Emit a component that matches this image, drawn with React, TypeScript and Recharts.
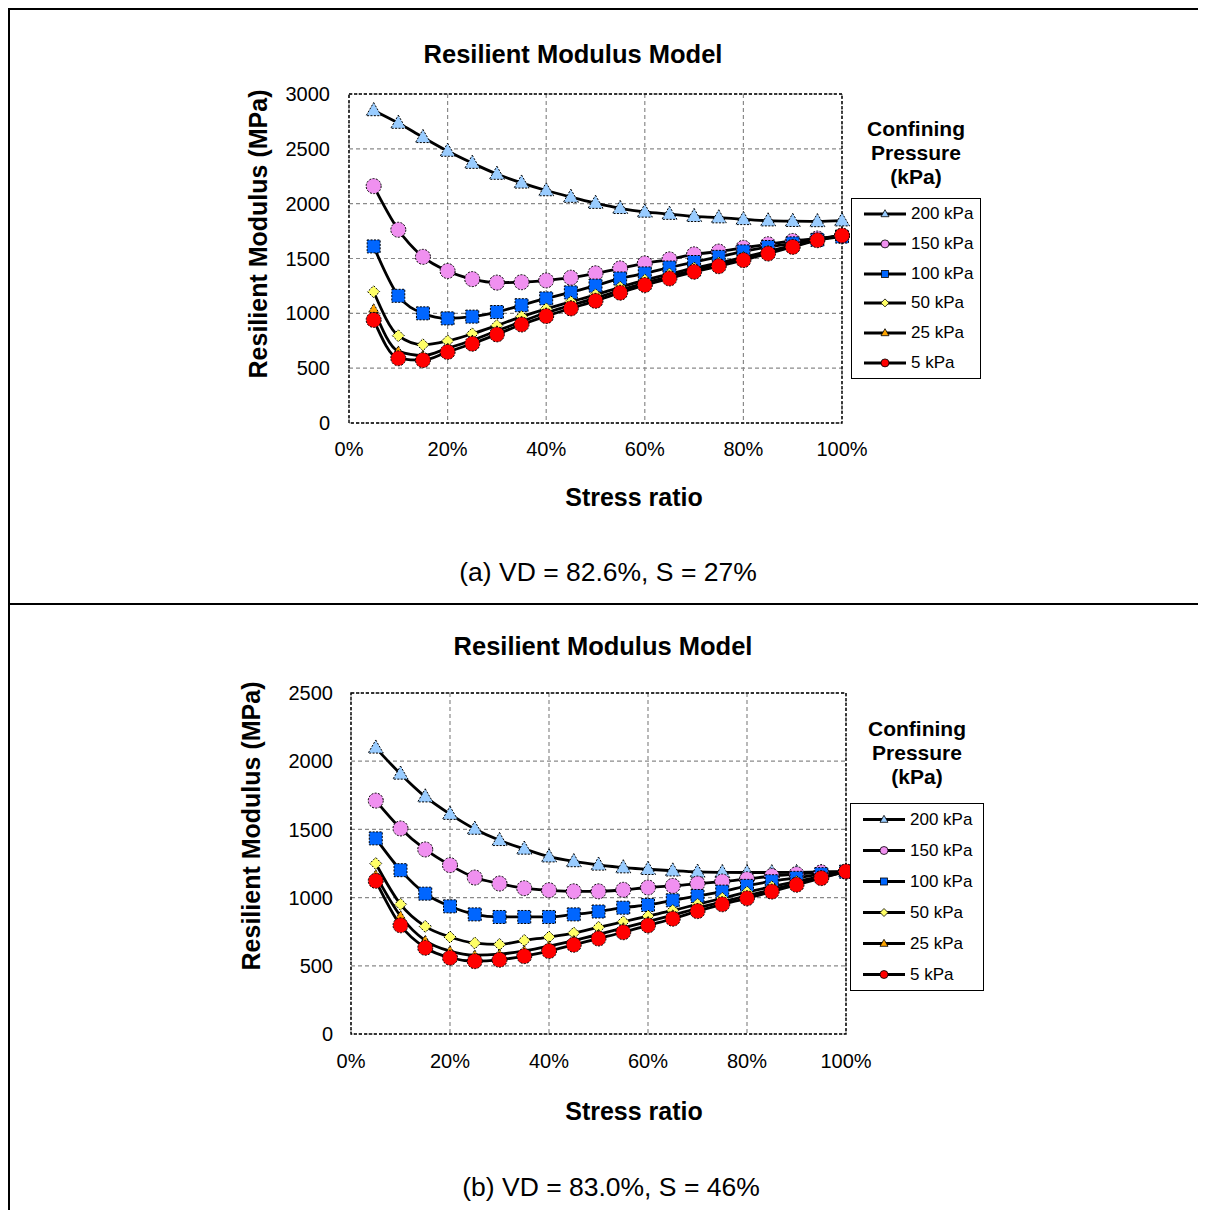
import React from 'react';
import {
  LineChart,
  Line,
  XAxis,
  YAxis,
  CartesianGrid,
  ReferenceArea,
  Legend,
  Label
} from 'recharts';

const FONT = '"Liberation Sans", Arial, Helvetica, sans-serif';

// stress ratio for every measured point (5% .. 100%)
const stressRatio = [
  0.05, 0.1, 0.15, 0.2, 0.25, 0.3, 0.35, 0.4, 0.45, 0.5,
  0.55, 0.6, 0.65, 0.7, 0.75, 0.8, 0.85, 0.9, 0.95, 1.0
];
const ratioTicks = [0, 0.2, 0.4, 0.6, 0.8, 1];

// (a) VD = 82.6%, S = 27%  -- resilient modulus in MPa
const mrA200 = [2850, 2735, 2605, 2480, 2370, 2270, 2190, 2120, 2060, 2005, 1958, 1925, 1905, 1885, 1873, 1857, 1845, 1840, 1838, 1845];
const mrA150 = [2160, 1762, 1515, 1386, 1312, 1280, 1284, 1300, 1325, 1365, 1410, 1455, 1492, 1538, 1563, 1598, 1630, 1660, 1682, 1705];
const mrA100 = [1610, 1160, 1000, 954, 970, 1012, 1074, 1136, 1191, 1253, 1318, 1364, 1418, 1468, 1515, 1565, 1605, 1638, 1670, 1700];
const mrA50 = [1197, 796, 713, 748, 813, 890, 970, 1041, 1105, 1169, 1238, 1303, 1358, 1414, 1460, 1510, 1565, 1620, 1675, 1710];
const mrA25 = [1040, 655, 615, 682, 755, 840, 925, 1005, 1072, 1138, 1210, 1278, 1336, 1395, 1444, 1497, 1553, 1612, 1670, 1708];
const mrA5 = [940, 590, 573, 648, 723, 808, 898, 975, 1045, 1114, 1188, 1258, 1318, 1379, 1430, 1485, 1545, 1606, 1667, 1710];
const modulusTicksA = [0, 500, 1000, 1500, 2000, 2500, 3000];

// (b) VD = 83.0%, S = 46%
const mrB200 = [2098, 1907, 1740, 1612, 1503, 1420, 1357, 1300, 1265, 1240, 1220, 1208, 1197, 1188, 1185, 1184, 1184, 1185, 1188, 1190];
const mrB150 = [1711, 1507, 1353, 1238, 1147, 1103, 1069, 1054, 1046, 1046, 1057, 1074, 1086, 1103, 1118, 1135, 1158, 1172, 1185, 1190];
const mrB100 = [1434, 1201, 1029, 936, 877, 858, 858, 858, 877, 898, 926, 946, 980, 1012, 1044, 1086, 1120, 1145, 1172, 1190];
const mrB50 = [1250, 951, 789, 711, 667, 657, 686, 711, 740, 782, 823, 865, 906, 951, 995, 1040, 1080, 1117, 1155, 1190];
const mrB25 = [1165, 865, 685, 608, 578, 585, 610, 645, 685, 730, 778, 825, 872, 922, 968, 1012, 1058, 1103, 1148, 1190];
const mrB5 = [1123, 797, 632, 559, 534, 544, 571, 608, 654, 700, 746, 796, 845, 901, 951, 995, 1044, 1094, 1143, 1192];
const modulusTicksB = [0, 500, 1000, 1500, 2000, 2500];

type Shape = 'triangle' | 'circle' | 'square' | 'diamond';

const series: { key: string; name: string; shape: Shape; fill: string; size: number }[] = [
  { key: 'p200', name: '200 kPa', shape: 'triangle', fill: '#99CCFF', size: 15 },
  { key: 'p150', name: '150 kPa', shape: 'circle', fill: '#F090F0', size: 15 },
  { key: 'p100', name: '100 kPa', shape: 'square', fill: '#0066FF', size: 13 },
  { key: 'p50', name: '50 kPa', shape: 'diamond', fill: '#FFFF66', size: 12 },
  { key: 'p25', name: '25 kPa', shape: 'triangle', fill: '#FFA500', size: 10 },
  { key: 'p5', name: '5 kPa', shape: 'circle', fill: '#FF0000', size: 15 }
];

const buildRows = (cols: number[][]) =>
  stressRatio.map((ratio, i) => {
    const row: Record<string, number> = { ratio };
    series.forEach((s, j) => {
      row[s.key] = cols[j][i];
    });
    return row;
  });

const rowsA = buildRows([mrA200, mrA150, mrA100, mrA50, mrA25, mrA5]);
const rowsB = buildRows([mrB200, mrB150, mrB100, mrB50, mrB25, mrB5]);

function Marker({ shape, cx, cy, size, fill, dashed = true }: {
  shape: Shape; cx: number; cy: number; size: number; fill: string; dashed?: boolean;
}) {
  const h = size / 2;
  const common = {
    fill,
    stroke: '#000',
    strokeWidth: dashed ? 1 : 0.8,
    strokeDasharray: dashed ? '2 1.4' : undefined
  };
  if (shape === 'circle') return <circle cx={cx} cy={cy} r={h} {...common} />;
  if (shape === 'square') return <rect x={cx - h} y={cy - h} width={size} height={size} {...common} />;
  if (shape === 'diamond') {
    return <polygon points={`${cx},${cy - h} ${cx + h},${cy} ${cx},${cy + h} ${cx - h},${cy}`} {...common} />;
  }
  return (
    <polygon
      points={`${cx},${cy - h * 1.05} ${cx + h},${cy + h * 0.7} ${cx - h},${cy + h * 0.7}`}
      {...common}
    />
  );
}

type Geo = {
  top: number;
  height: number;
  margin: { top: number; right: number; bottom: number; left: number };
  yTickMargin: number;
  xTickMargin: number;
  xTitle: [number, number];
  yTitle: [number, number];
  legendLeft: number;
  legendTop: number;
  legendWidth: number;
  legendGap: number;
  rowHeight: number;
  title: [number, number];
  caption: [number, number];
};

// panels sit inside the 2px table border, hence the -2 offsets
const geoA: Geo = {
  top: -2,
  height: 590,
  margin: { top: 86, right: 356, bottom: 145, left: 281 },
  yTickMargin: 13,
  xTickMargin: 13,
  xTitle: [626, 489],
  yTitle: [250, 226],
  legendLeft: 843,
  legendTop: 109,
  legendWidth: 130,
  legendGap: 9,
  rowHeight: 29.8,
  title: [565, 46],
  caption: [600, 564]
};

const geoB: Geo = {
  top: 594,
  height: 598,
  margin: { top: 89, right: 352, bottom: 138, left: 283 },
  yTickMargin: 12,
  xTickMargin: 14,
  xTitle: [626, 507],
  yTitle: [243, 222],
  legendLeft: 842,
  legendTop: 113,
  legendWidth: 134,
  legendGap: 14,
  rowHeight: 31,
  title: [595, 42],
  caption: [603, 583]
};

const tickStyle = { fill: '#000', fontSize: 20, fontFamily: FONT };

function Panel({ rows, yMax, yTicks, caption, geo }: {
  rows: Record<string, number>[]; yMax: number; yTicks: number[]; caption: string; geo: Geo;
}) {
  const renderLegend = () => (
    <div style={{ width: geo.legendWidth, fontFamily: FONT, color: '#000' }}>
      <div style={{ textAlign: 'center', fontWeight: 'bold', fontSize: 21, lineHeight: '24px' }}>
        Confining<br />Pressure<br />(kPa)
      </div>
      <div style={{ marginTop: geo.legendGap, border: '1.5px solid #000', background: '#fff' }}>
        {series.map((s) => (
          <div key={s.key} style={{ position: 'relative', height: geo.rowHeight }}>
            <svg width={58} height={geo.rowHeight} style={{ position: 'absolute', left: 0, top: 0 }}>
              <line x1={12} x2={54} y1={geo.rowHeight / 2} y2={geo.rowHeight / 2} stroke="#000" strokeWidth={3} />
              <Marker shape={s.shape} cx={33} cy={geo.rowHeight / 2} size={s.shape === 'square' ? 7 : 8} fill={s.fill} dashed={false} />
            </svg>
            <span style={{ position: 'absolute', left: 59, top: 0, lineHeight: `${geo.rowHeight}px`, fontSize: 17 }}>
              {s.name}
            </span>
          </div>
        ))}
      </div>
    </div>
  );

  return (
    <div style={{ position: 'absolute', left: -2, top: geo.top, width: 1190, height: geo.height }}>
      <div
        style={{
          position: 'absolute', left: geo.title[0] - 300, top: geo.title[1] - 15, width: 600,
          textAlign: 'center', fontFamily: FONT, fontWeight: 'bold', fontSize: 25.5, lineHeight: '30px'
        }}
      >
        Resilient Modulus Model
      </div>
      <LineChart width={1190} height={geo.height} data={rows} margin={geo.margin}>
        <CartesianGrid stroke="#8a8a8a" strokeDasharray="4 3" strokeWidth={1.2} />
        <XAxis
          dataKey="ratio"
          type="number"
          domain={[0, 1]}
          ticks={ratioTicks}
          interval={0}
          tickFormatter={(v: number) => `${Math.round(v * 100)}%`}
          tickLine={false}
          axisLine={false}
          tickMargin={geo.xTickMargin}
          tick={tickStyle}
          height={30}
        >
          <Label
            content={() => (
              <text x={geo.xTitle[0]} y={geo.xTitle[1]} textAnchor="middle" dominantBaseline="central"
                fontFamily={FONT} fontWeight="bold" fontSize={25} fill="#000">
                Stress ratio
              </text>
            )}
          />
        </XAxis>
        <YAxis
          type="number"
          domain={[0, yMax]}
          ticks={yTicks}
          interval={0}
          tickLine={false}
          axisLine={false}
          tickMargin={geo.yTickMargin}
          tick={tickStyle}
          width={60}
        >
          <Label
            content={() => (
              <text x={geo.yTitle[0]} y={geo.yTitle[1]} textAnchor="middle" dominantBaseline="central"
                transform={`rotate(-90 ${geo.yTitle[0]} ${geo.yTitle[1]})`}
                fontFamily={FONT} fontWeight="bold" fontSize={25} fill="#000">
                Resilient Modulus (MPa)
              </text>
            )}
          />
        </YAxis>
        <ReferenceArea x1={0} x2={1} y1={0} y2={yMax} fill="none" stroke="#000"
          strokeWidth={1.4} strokeDasharray="3 2" ifOverflow="visible" />
        {series.map((s) => (
          <Line
            key={s.key}
            dataKey={s.key}
            name={s.name}
            type="monotone"
            stroke="#000"
            strokeWidth={2.8}
            isAnimationActive={false}
            activeDot={false}
            dot={(p: any) => (
              <Marker key={`${s.key}-${p.index}`} shape={s.shape} cx={p.cx} cy={p.cy} size={s.size} fill={s.fill} />
            )}
          />
        ))}
        <Legend
          layout="vertical"
          align="center"
          verticalAlign="middle"
          content={renderLegend}
          wrapperStyle={{ left: geo.legendLeft, top: geo.legendTop, width: geo.legendWidth, height: 'auto' }}
        />
      </LineChart>
      <div
        style={{
          position: 'absolute', left: geo.caption[0] - 300, top: geo.caption[1] - 16, width: 600,
          textAlign: 'center', fontFamily: FONT, fontSize: 26.5, lineHeight: '32px'
        }}
      >
        {caption}
      </div>
    </div>
  );
}

export default function App() {
  return (
    <div
      style={{
        position: 'relative', width: 1214, height: 1202, boxSizing: 'border-box',
        borderTop: '2px solid #000', borderLeft: '2px solid #000', background: '#fff'
      }}
    >
      <style>{'body{overflow:hidden;background:#fff}'}</style>
      <Panel rows={rowsA} yMax={3000} yTicks={modulusTicksA} caption="(a) VD = 82.6%, S = 27%" geo={geoA} />
      <div style={{ position: 'absolute', left: 0, top: 593, width: 1214, height: 2, background: '#000' }} />
      <Panel rows={rowsB} yMax={2500} yTicks={modulusTicksB} caption="(b) VD = 83.0%, S = 46%" geo={geoB} />
    </div>
  );
}
